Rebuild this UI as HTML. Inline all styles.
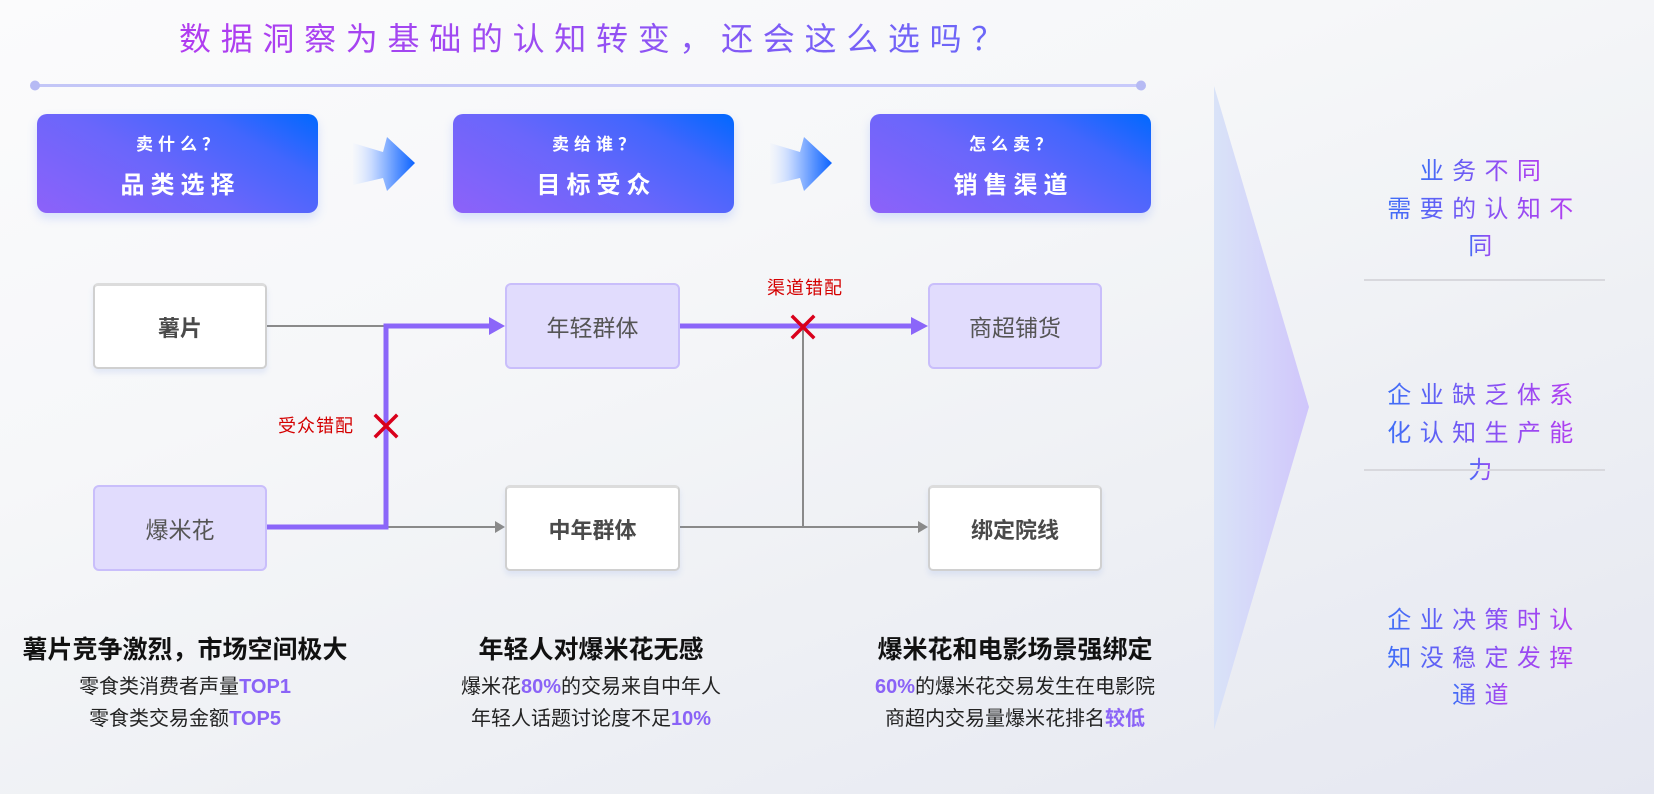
<!DOCTYPE html>
<html>
<head>
<meta charset="utf-8">
<style>
  html,body{margin:0;padding:0;}
  body{width:1654px;height:794px;overflow:hidden;position:relative;
    font-family:"Liberation Sans","Noto Sans CJK SC",sans-serif;
    background:linear-gradient(160deg,#fbfbfc 0%,#f6f7f9 35%,#eef0f4 65%,#e5e7f1 100%);}
  .abs{position:absolute;}
  .title{left:179px;top:22px;height:34px;line-height:34px;font-size:32px;letter-spacing:9.7px;white-space:nowrap;
    background:linear-gradient(90deg,#b13cf0 0%,#9a4cf2 45%,#7a5ef6 75%,#6a68f8 100%);
    -webkit-background-clip:text;background-clip:text;color:transparent;}
  .card{width:281px;height:99px;top:114px;border-radius:10px;
    background:linear-gradient(30deg,#8d62f9 0%,#6a66fb 45%,#4266fd 75%,#0068ff 100%);
    box-shadow:0 5px 10px rgba(90,130,255,0.22);color:#fff;text-align:center;}
  .card .q{position:absolute;left:0;right:0;top:22px;height:18px;line-height:18px;font-size:17px;font-weight:bold;letter-spacing:5px;padding-left:5px;}
  .card .a{position:absolute;left:0;right:0;top:59px;height:26px;line-height:26px;font-size:24px;font-weight:bold;letter-spacing:6px;padding-left:6px;}
  .node{box-sizing:border-box;height:86px;display:flex;align-items:center;justify-content:center;font-size:22px;}
  .white{background:#fff;border:2px solid #d0d0d0;border-top:3px solid #dcdcdc;border-radius:5px;box-shadow:0 4px 6px rgba(120,150,230,0.16);color:#4a4a4a;font-weight:bold;}
  .purple{background:#e1dcfd;border:2px solid #c9befb;border-radius:6px;color:#555;font-size:23px;}
  .red{color:#d40000;font-size:18px;letter-spacing:1px;height:20px;line-height:20px;white-space:nowrap;}
  .col{width:400px;text-align:center;white-space:nowrap;}
  .h{font-size:25px;font-weight:bold;color:#111;height:30px;line-height:30px;}
  .s{font-size:20px;color:#222;height:26px;line-height:26px;}
  .hl{color:#8a63f7;font-weight:bold;}
  .rt{left:1364px;width:241px;text-align:center;}
  .rt div{height:37.5px;line-height:37.5px;white-space:nowrap;}
  .rt span{display:inline-block;font-size:24px;letter-spacing:8.4px;
    background:linear-gradient(90deg,#3e6ef7 0%,#8f4ef3 60%,#b53cf0 100%);
    -webkit-background-clip:text;background-clip:text;color:transparent;}
  .sep{left:1364px;width:241px;height:2px;background:#d8d8dd;}
</style>
</head>
<body>

<div class="abs title">数据洞察为基础的认知转变，还会这么选吗？</div>

<svg class="abs" style="left:0;top:0" width="1654" height="794">
  <defs>
    <linearGradient id="lg" x1="0" x2="1" y1="0" y2="0">
      <stop offset="0" stop-color="#c3c6f7"/>
      <stop offset="1" stop-color="#c8cafb"/>
    </linearGradient>
    <linearGradient id="ar" gradientUnits="userSpaceOnUse" x1="353" x2="415" y1="0" y2="0">
      <stop offset="0" stop-color="#dfeaff" stop-opacity="0.1"/>
      <stop offset="0.3" stop-color="#c6d9ff" stop-opacity="0.95"/>
      <stop offset="0.7" stop-color="#5a94ff"/>
      <stop offset="1" stop-color="#0b63ff"/>
    </linearGradient>
    <linearGradient id="ar2" gradientUnits="userSpaceOnUse" x1="770" x2="832" y1="0" y2="0">
      <stop offset="0" stop-color="#dfeaff" stop-opacity="0.1"/>
      <stop offset="0.3" stop-color="#c6d9ff" stop-opacity="0.95"/>
      <stop offset="0.7" stop-color="#5a94ff"/>
      <stop offset="1" stop-color="#0b63ff"/>
    </linearGradient>
    <linearGradient id="tri" gradientUnits="userSpaceOnUse" x1="1214" x2="1309" y1="0" y2="0">
      <stop offset="0" stop-color="#d9e3f8"/>
      <stop offset="1" stop-color="#d0c6fb"/>
    </linearGradient>
  </defs>

  <!-- top line -->
  <rect x="35" y="84" width="1106" height="3" fill="url(#lg)"/>
  <circle cx="35" cy="85.5" r="5" fill="#b6baf4"/>
  <circle cx="1141" cy="85.5" r="5" fill="#b6baf4"/>

  <!-- arrows between cards -->
  <polygon points="353,143 383,152 387,137 415,163 387,191 383,178 353,185" fill="url(#ar)"/>
  <polygon points="770,143 800,152 804,137 832,163 804,191 800,178 770,185" fill="url(#ar2)"/>

  <!-- right triangle -->
  <polygon points="1214,86 1309,407 1214,730" fill="url(#tri)"/>

  <!-- grey connectors -->
  <g stroke="#8a8a8a" stroke-width="2" fill="none">
    <path d="M267 326 H386"/>
    <path d="M386 527 H496"/>
    <path d="M680 527 H918"/>
    <path d="M803 327 V527"/>
  </g>
  <polygon points="495,521 505,527 495,533" fill="#8a8a8a"/>
  <polygon points="918,521 928,527 918,533" fill="#8a8a8a"/>

  <!-- purple connectors -->
  <g stroke="#8b66f9" stroke-width="5" fill="none">
    <path d="M267 527 H386 V326 H491"/>
    <path d="M680 326 H913"/>
  </g>
  <polygon points="489,317 505,326 489,335" fill="#8b66f9"/>
  <polygon points="911,317 928,326 911,335" fill="#8b66f9"/>

  <!-- red X -->
  <g stroke="#d9001b" stroke-width="3.5" stroke-linecap="square">
    <path d="M376 416 L396 436 M396 416 L376 436"/>
    <path d="M793 317 L813 337 M813 317 L793 337"/>
  </g>
</svg>

<!-- cards -->
<div class="abs card" style="left:37px;"><div class="q">卖什么？</div><div class="a">品类选择</div></div>
<div class="abs card" style="left:453px;"><div class="q">卖给谁？</div><div class="a">目标受众</div></div>
<div class="abs card" style="left:870px;"><div class="q">怎么卖？</div><div class="a">销售渠道</div></div>

<!-- nodes -->
<div class="abs node white" style="left:93px;top:283px;width:174px;">薯片</div>
<div class="abs node purple" style="left:505px;top:283px;width:175px;">年轻群体</div>
<div class="abs node purple" style="left:928px;top:283px;width:174px;">商超铺货</div>
<div class="abs node purple" style="left:93px;top:485px;width:174px;">爆米花</div>
<div class="abs node white" style="left:505px;top:485px;width:175px;">中年群体</div>
<div class="abs node white" style="left:928px;top:485px;width:174px;">绑定院线</div>

<div class="abs red" style="left:278px;top:416px;">受众错配</div>
<div class="abs red" style="left:767px;top:278px;">渠道错配</div>

<!-- bottom columns -->
<div class="abs col" style="left:-15px;top:635px;">
  <div class="h">薯片竞争激烈，市场空间极大</div>
</div>
<div class="abs col" style="left:-15px;top:674px;"><div class="s">零食类消费者声量<span class="hl">TOP1</span></div></div>
<div class="abs col" style="left:-15px;top:706px;"><div class="s">零食类交易金额<span class="hl">TOP5</span></div></div>

<div class="abs col" style="left:391px;top:635px;"><div class="h">年轻人对爆米花无感</div></div>
<div class="abs col" style="left:391px;top:674px;"><div class="s">爆米花<span class="hl">80%</span>的交易来自中年人</div></div>
<div class="abs col" style="left:391px;top:706px;"><div class="s">年轻人话题讨论度不足<span class="hl">10%</span></div></div>

<div class="abs col" style="left:815px;top:635px;"><div class="h">爆米花和电影场景强绑定</div></div>
<div class="abs col" style="left:815px;top:674px;"><div class="s"><span class="hl">60%</span>的爆米花交易发生在电影院</div></div>
<div class="abs col" style="left:815px;top:706px;"><div class="s">商超内交易量爆米花排名<span class="hl">较低</span></div></div>

<!-- right panel texts -->
<div class="abs rt" style="top:153px;">
  <div><span>业务不同</span></div>
  <div><span>需要的认知不</span></div>
  <div><span>同</span></div>
</div>
<div class="abs sep" style="top:279px;"></div>
<div class="abs rt" style="top:377px;">
  <div><span>企业缺乏体系</span></div>
  <div><span>化认知生产能</span></div>
  <div><span>力</span></div>
</div>
<div class="abs sep" style="top:469px;"></div>
<div class="abs rt" style="top:602px;">
  <div><span>企业决策时认</span></div>
  <div><span>知没稳定发挥</span></div>
  <div><span>通道</span></div>
</div>

</body>
</html>
